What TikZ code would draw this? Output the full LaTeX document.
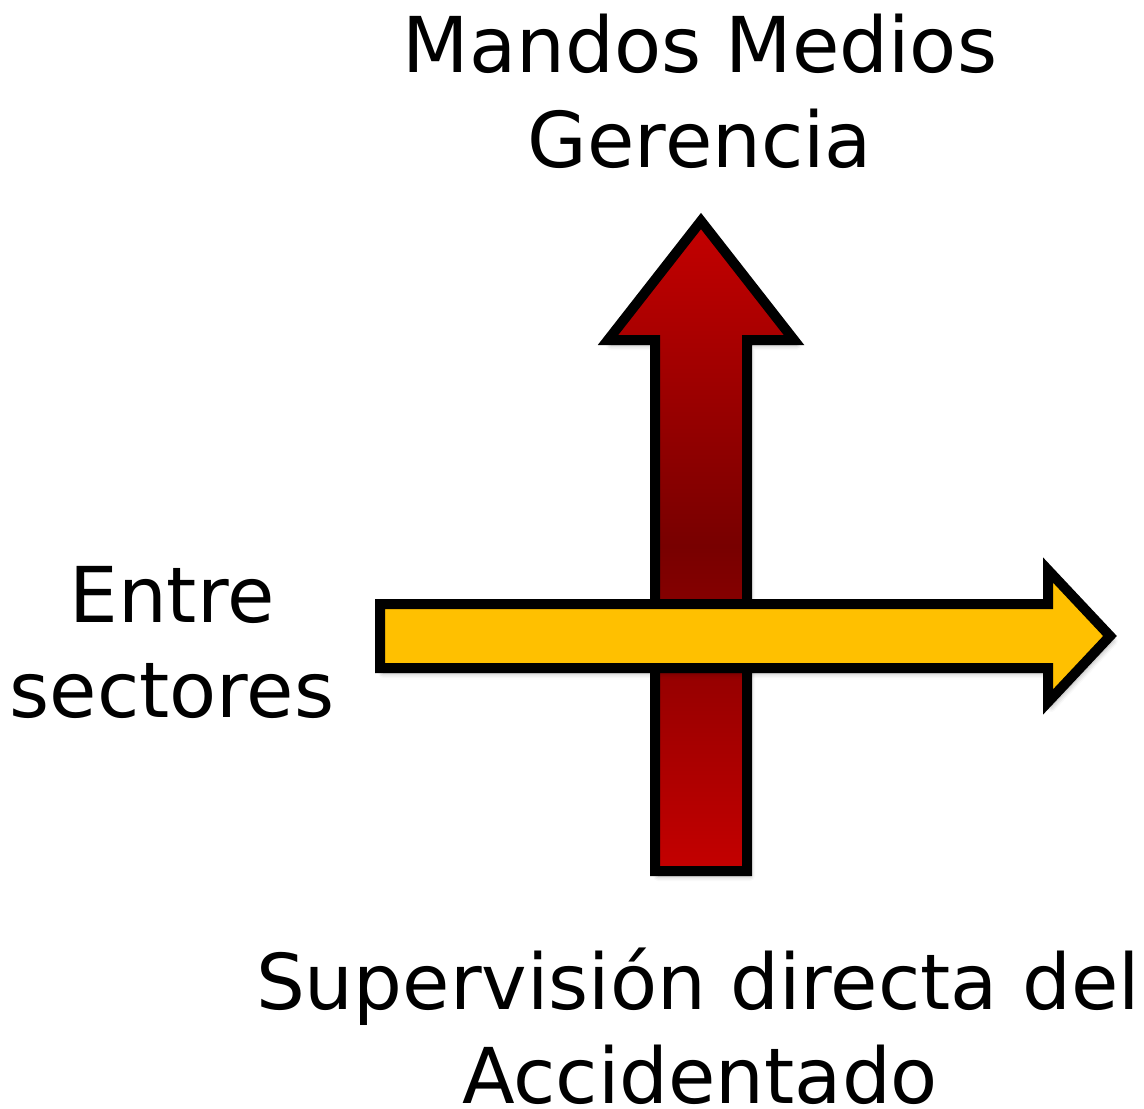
\documentclass[tikz,border=0pt]{standalone}
\usepackage{fontspec}
\setmainfont{DejaVu Sans}
\usetikzlibrary{shadows.blur}
\definecolor{brightred}{HTML}{C40000}
\definecolor{darkred}{HTML}{780000}
\definecolor{gold}{HTML}{FFC000}
\tikzset{
  arrowshape/.style={draw=black, line width=10pt, line join=miter, miter limit=10,
    blur shadow={shadow xshift=3pt, shadow yshift=-5pt, shadow opacity=35, shadow blur radius=5pt}},
  lbl/.style={anchor=base, inner sep=0pt, text depth=0pt, font=\fontsize{77}{95}\selectfont}
}
\begin{document}
\begin{tikzpicture}[x=1pt,y=-1pt]
\useasboundingbox (0,0) rectangle (1144,1109);
% red vertical arrow
\path[arrowshape, top color=brightred, bottom color=brightred, middle color=darkred]
  (655,871) -- (655,340) -- (608,340) -- (701,221) -- (794,340) -- (747,340) -- (747,871) -- cycle;
% yellow horizontal arrow
\path[arrowshape, fill=gold]
  (380,604) -- (1048,604) -- (1048,570) -- (1110,636) -- (1048,702) -- (1048,668) -- (380,668) -- cycle;
% labels
\node[lbl] (top1) at (700,72) {Mandos Medios};
\node[lbl] (top2) at (700,167) {Gerencia};
\node[lbl] (left1) at (172,622) {Entre};
\node[lbl] (left2) at (172,717) {sectores};
\node[lbl] (bot1) at (698,1009) {Supervisión directa del};
\node[lbl] (bot2) at (700,1103) {Accidentado};
\end{tikzpicture}
\end{document}
